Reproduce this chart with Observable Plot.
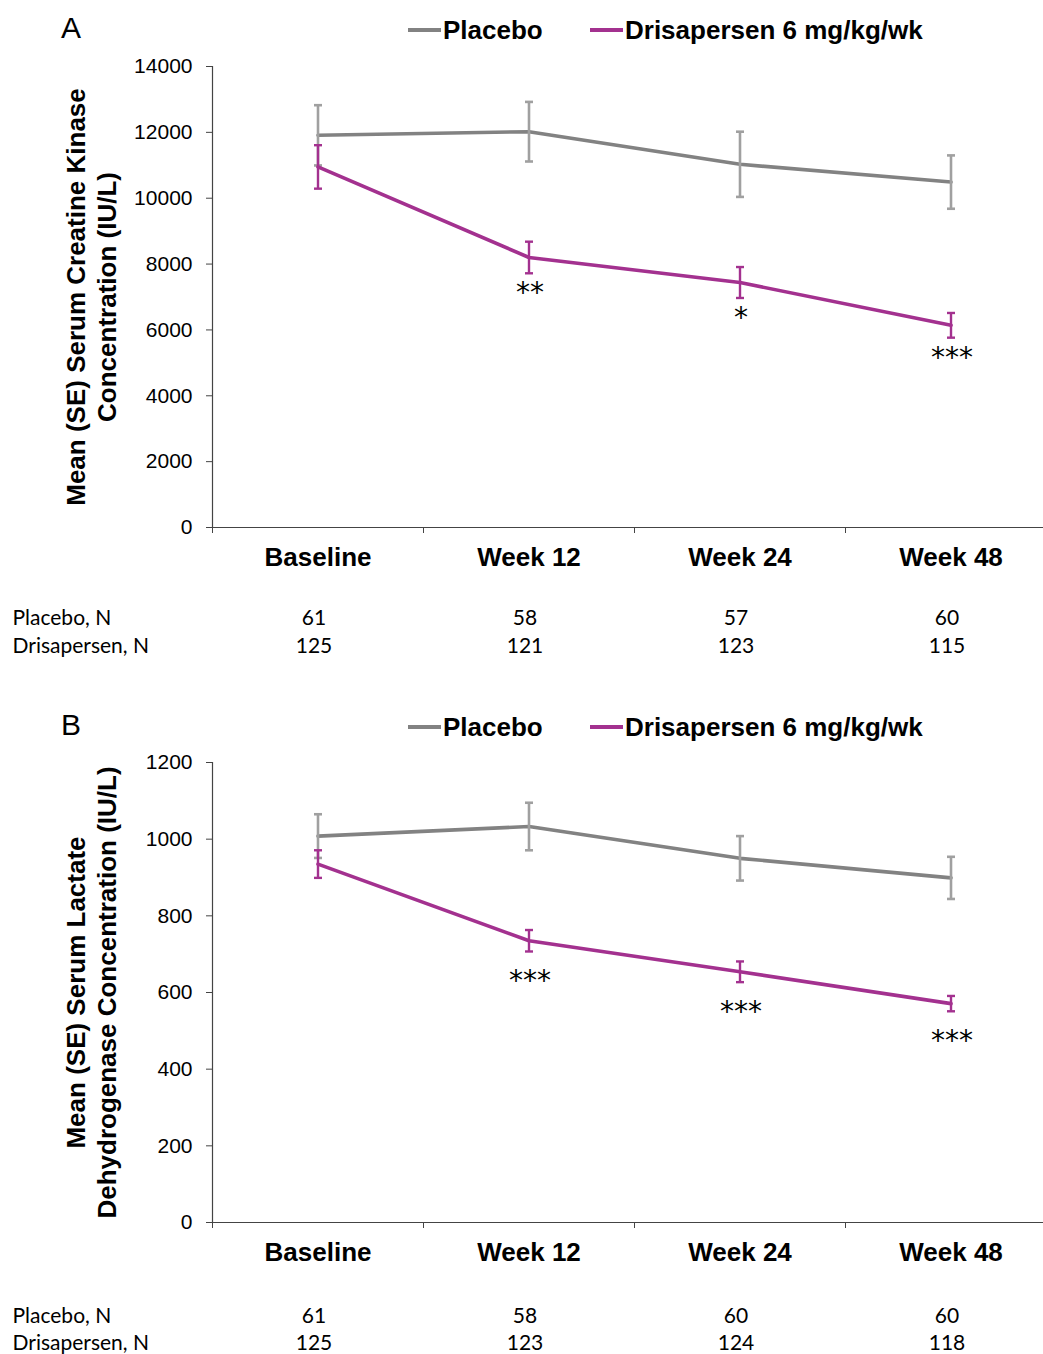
<!DOCTYPE html>
<html>
<head>
<meta charset="utf-8">
<script src="https://cdn.jsdelivr.net/npm/d3@7"></script>
<script src="https://cdn.jsdelivr.net/npm/@observablehq/plot@0.6"></script>
<style>
  html, body { margin: 0; padding: 0; background: #fff; overflow: hidden; }
  #wrap { width: 1043px; }
  .hdr { position: relative; width: 1043px; font-family: "Liberation Sans", Arial, sans-serif; color: #000; }
  .letter { position: absolute; font-size: 30px; line-height: 34px; }
  .leg { position: absolute; font-size: 26px; line-height: 30px; font-weight: bold; display: flex; align-items: center; white-space: nowrap; }
  .sw { display: inline-block; width: 33px; height: 3.5px; margin-right: 2px; }
  svg { display: block; }
</style>
</head>
<body>
<div id="wrap"></div>
<script>
// ---------- data ----------
const timepoints = ["Baseline", "Week 12", "Week 24", "Week 48"];
const seriesNames = ["Placebo", "Drisapersen 6 mg/kg/wk"];

// Panel A: serum creatine kinase (IU/L)
const ckPlaceboMean = [11910, 12020, 11030, 10490];
const ckPlaceboSE   = [915, 905, 990, 810];
const ckDrisMean    = [10950, 8200, 7440, 6140];
const ckDrisSE      = [660, 480, 470, 375];
const ckSignif      = ["", "**", "*", "***"];
const ckPlaceboN    = [61, 58, 57, 60];
const ckDrisN       = [125, 121, 123, 115];
const ckTicks       = [0, 2000, 4000, 6000, 8000, 10000, 12000, 14000];

// Panel B: serum lactate dehydrogenase (IU/L)
const ldhPlaceboMean = [1008, 1033, 950, 899];
const ldhPlaceboSE   = [57, 62, 58, 55];
const ldhDrisMean    = [935, 735, 654, 571];
const ldhDrisSE      = [36, 28, 27, 20];
const ldhSignif      = ["", "***", "***", "***"];
const ldhPlaceboN    = [61, 58, 60, 60];
const ldhDrisN       = [125, 123, 124, 118];
const ldhTicks       = [0, 200, 400, 600, 800, 1000, 1200];

const nRowLabels = ["Placebo, N", "Drisapersen, N"];

// ---------- styles ----------
const GRAY_LINE = "#828282";
const GRAY_ERR = "#a0a0a0";
const PURPLE = "#a3318f";
const FONT = "'Liberation Sans', Arial, Helvetica, sans-serif";
const NFONT = "Lato, 'Open Sans', sans-serif";

const capSymbol = {
  draw(ctx, size) {
    const r = Math.sqrt(size / Math.PI);
    ctx.moveTo(-r, 0);
    ctx.lineTo(r, 0);
  }
};

function header(letter, height, letterTop, legTop) {
  const h = document.createElement("div");
  h.className = "hdr";
  h.style.height = height + "px";
  const l = document.createElement("div");
  l.className = "letter";
  l.style.left = "61px";
  l.style.top = letterTop + "px";
  l.textContent = letter;
  h.appendChild(l);
  const lefts = [408, 590];
  const colors = [GRAY_LINE, PURPLE];
  seriesNames.forEach((name, i) => {
    const g = document.createElement("div");
    g.className = "leg";
    g.style.left = lefts[i] + "px";
    g.style.top = legTop + "px";
    const sw = document.createElement("span");
    sw.className = "sw";
    sw.style.background = colors[i];
    g.appendChild(sw);
    const t = document.createElement("span");
    t.textContent = name;
    g.appendChild(t);
    h.appendChild(g);
  });
  return h;
}

function panel(cfg) {
  const rows = [];
  timepoints.forEach((t, i) => {
    rows.push({i, group: "Placebo", mean: cfg.pMean[i], se: cfg.pSE[i], sig: ""});
  });
  timepoints.forEach((t, i) => {
    rows.push({i, group: "Dris", mean: cfg.dMean[i], se: cfg.dSE[i], sig: cfg.sig[i]});
  });
  const pl = rows.filter(d => d.group === "Placebo");
  const dr = rows.filter(d => d.group === "Dris");
  const caps = (arr) => arr.flatMap(d => [{i: d.i, y: d.mean - d.se}, {i: d.i, y: d.mean + d.se}]);
  const idx = d3.range(timepoints.length);
  const yMax = cfg.ticks[cfg.ticks.length - 1];

  return Plot.plot({
    width: 1043,
    height: cfg.height,
    marginTop: cfg.marginTop,
    marginBottom: cfg.marginBottom,
    marginLeft: 212,
    marginRight: 0,
    x: {type: "linear", domain: [-0.5, timepoints.length - 0.5], range: [212, 1056]},
    y: {domain: [0, yMax]},
    style: {fontFamily: FONT, fontSize: "21px", color: "#000", background: "#fff", overflow: "hidden"},
    marks: [
      Plot.axisY({ticks: cfg.ticks, tickFormat: d3.format("d"), tickSize: 6, tickPadding: 14, fontSize: 21, label: null, stroke: "#444"}),
      Plot.axisX({ticks: idx.map(i => i - 0.5), tickFormat: () => "", tickSize: 6, label: null, stroke: "#444"}),
      Plot.axisX({ticks: idx, tickFormat: i => timepoints[i], tickSize: 0, tickPadding: 20, fontSize: 26, fontWeight: "bold", label: null}),
      Plot.ruleX([-0.5], {stroke: "#444", strokeWidth: 1.2}),
      Plot.ruleY([0], {stroke: "#444", strokeWidth: 1.2}),
      // axis title
      Plot.text([cfg.title], {frameAnchor: "left", dx: -122, rotate: -90, fontSize: 26, fontWeight: "bold", lineHeight: 1.19, textAnchor: "middle"}),
      // placebo
      Plot.line(pl, {x: "i", y: "mean", stroke: GRAY_LINE, strokeWidth: 3.6}),
      Plot.ruleX(pl, {x: "i", y1: d => d.mean - d.se, y2: d => d.mean + d.se, stroke: GRAY_ERR, strokeWidth: 2.6}),
      Plot.dot(caps(pl), {x: "i", y: "y", r: 4, symbol: capSymbol, stroke: GRAY_ERR, strokeWidth: 2.6, fill: "none"}),
      // drisapersen
      Plot.line(dr, {x: "i", y: "mean", stroke: PURPLE, strokeWidth: 3.6}),
      Plot.ruleX(dr, {x: "i", y1: d => d.mean - d.se, y2: d => d.mean + d.se, stroke: PURPLE, strokeWidth: 2.4}),
      Plot.dot(caps(dr), {x: "i", y: "y", r: 4, symbol: capSymbol, stroke: PURPLE, strokeWidth: 2.4, fill: "none"}),
      // significance
      Plot.text(dr.filter(d => d.sig), {x: "i", y: d => d.mean - d.se, text: "sig", lineAnchor: "top", dy: cfg.sigDy, dx: 1, fontSize: 28, fontFamily: "'DejaVu Sans', sans-serif", letterSpacing: "1px"}),
      // N table
      Plot.text(idx, {x: i => i, text: i => String(cfg.pN[i]), frameAnchor: "bottom", dy: cfg.nDy1, fontSize: 21, fontFamily: NFONT, dx: -4}),
      Plot.text(idx, {x: i => i, text: i => String(cfg.dN[i]), frameAnchor: "bottom", dy: cfg.nDy2, fontSize: 21, fontFamily: NFONT, dx: -4}),
      Plot.text([nRowLabels[0]], {frameAnchor: "bottom-left", dx: -200, dy: cfg.nDy1, textAnchor: "start", fontSize: 21, fontFamily: NFONT}),
      Plot.text([nRowLabels[1]], {frameAnchor: "bottom-left", dx: -200, dy: cfg.nDy2, textAnchor: "start", fontSize: 21, fontFamily: NFONT})
    ]
  });
}

const wrap = document.getElementById("wrap");
wrap.appendChild(header("A", 48, 11, 15));
wrap.appendChild(panel({
  height: 632, marginTop: 18, marginBottom: 153,
  pMean: ckPlaceboMean, pSE: ckPlaceboSE, dMean: ckDrisMean, dSE: ckDrisSE,
  sig: ckSignif, pN: ckPlaceboN, dN: ckDrisN, ticks: ckTicks,
  title: "Mean (SE) Serum Creatine Kinase\nConcentration (IU/L)",
  sigDy: 9, nDy1: 97, nDy2: 125
}));
wrap.appendChild(header("B", 65, 28, 32));
wrap.appendChild(panel({
  height: 609, marginTop: 17, marginBottom: 132,
  pMean: ldhPlaceboMean, pSE: ldhPlaceboSE, dMean: ldhDrisMean, dSE: ldhDrisSE,
  sig: ldhSignif, pN: ldhPlaceboN, dN: ldhDrisN, ticks: ldhTicks,
  title: "Mean (SE) Serum Lactate\nDehydrogenase Concentration (IU/L)",
  sigDy: 19, nDy1: 100, nDy2: 127
}));
</script>
</body>
</html>
